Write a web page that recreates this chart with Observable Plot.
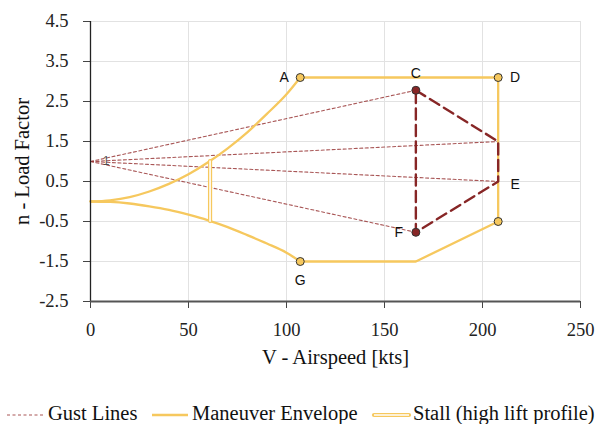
<!DOCTYPE html>
<html>
<head>
<meta charset="utf-8">
<script src="https://cdn.jsdelivr.net/npm/d3@7"></script>
<script src="https://cdn.jsdelivr.net/npm/@observablehq/plot@0.6"></script>
<style>
  body { margin: 0; background: #fff; }
  #wrap { position: relative; width: 607px; height: 424px; background: #fff; }
</style>
</head>
<body>
<div id="wrap"></div>
<script>
// ---- data ----
const xTicks = [0, 50, 100, 150, 200, 250];
const yTicks = [-2.5, -1.5, -0.5, 0.5, 1.5, 2.5, 3.5, 4.5];

// stall curves (airspeed in kts, load factor)
const stallCurveV = [0, 10, 20, 30, 40, 50, 60, 70, 80, 90, 100, 107];
const posStallN   = [0, 0.03, 0.11, 0.25, 0.44, 0.68, 0.98, 1.33, 1.73, 2.19, 2.68, 3.1];
const negStallN   = [0, -0.01, -0.05, -0.12, -0.21, -0.33, -0.47, -0.64, -0.84, -1.05, -1.28, -1.5];

// maneuver envelope corners after point A: A -> D -> lower D -> (Vc,-1.5) -> G
const cornerV = [107, 208, 208, 166, 107];
const cornerN = [3.1, 3.1, -0.5, -1.5, -1.5];

// labelled points
const pointNames = ["A", "C", "D", "E", "F", "G", "D2"];
const pointV = [107, 166, 208, 208, 166, 107, 208];
const pointN = [3.1, 2.78, 3.1, 0.5, -0.77, -1.5, -0.5];

// gust lines from (0, 1) to the gust-envelope corners
const gustOriginV = 0, gustOriginN = 1;
const gustEndV = [166, 208, 208, 166];
const gustEndN = [2.78, 1.5, 0.5, -0.77];

// stall (high lift profile) vertical
const stallLineV = [61, 61];
const stallLineN = [-0.49, 1.01];

const legendLabels = ["Gust Lines", "Maneuver Envelope", "Stall (high lift profile)"];

// ---- build tables ----
const yellow = "#f6c85e";
const darkRed = "#872626";
const gustColor = "#9a3a3a";

const posStall = stallCurveV.map((v, i) => ({v, n: posStallN[i]}));
const negStall = stallCurveV.map((v, i) => ({v, n: negStallN[i]}));
const corners = cornerV.map((v, i) => ({v, n: cornerN[i]}));

const gust = [];
gustEndV.forEach((v, i) => {
  gust.push({id: i, v: gustOriginV, n: gustOriginN});
  gust.push({id: i, v, n: gustEndN[i]});
});

const gustPoly = [0, 1, 2, 3, 0].map(i => ({v: gustEndV[i], n: gustEndN[i]}));
const stallLine = stallLineV.map((v, i) => ({v, n: stallLineN[i]}));

const pts = pointNames.map((name, i) => ({name, v: pointV[i], n: pointN[i]}));
const yellowPts = pts.filter(d => ["A", "D", "G", "D2"].includes(d.name));
const redPts = pts.filter(d => ["C", "F"].includes(d.name));
const labelOffsets = {A: [-16, 0], C: [0, -17], D: [17, 0], E: [17, 3], F: [-17, 0], G: [0, 19]};

const serif = "'Liberation Serif', 'Times New Roman', serif";
const sans = "'Liberation Sans', Arial, sans-serif";

const labelMarks = Object.entries(labelOffsets).map(([name, [dx, dy]]) =>
  Plot.text(pts.filter(d => d.name === name), {x: "v", y: "n", text: "name", dx, dy, fontFamily: sans, fontSize: 14, fill: "#111"})
);

const chart = Plot.plot({
  width: 607,
  height: 395,
  marginLeft: 90,
  marginRight: 27,
  marginTop: 21,
  marginBottom: 94,
  x: {domain: [0, 250]},
  y: {domain: [-2.5, 4.5]},
  style: {fontFamily: serif, fontSize: "18.5px", color: "#222", background: "#fff", overflow: "visible"},
  marks: [
    Plot.gridX(xTicks, {stroke: "#e2e2e2", strokeOpacity: 1, strokeWidth: 1}),
    Plot.gridY(yTicks, {stroke: "#e2e2e2", strokeOpacity: 1, strokeWidth: 1}),
    // gust lines
    Plot.line(gust, {x: "v", y: "n", z: "id", stroke: gustColor, strokeWidth: 1.1, strokeOpacity: 0.85, strokeDasharray: "3,2.5"}),
    Plot.text(["1"], {x: 8, y: 1, text: d => d, fill: "#333", fontSize: 12, fontFamily: sans, fillOpacity: 0.85}),
    // maneuver envelope
    Plot.line(posStall, {x: "v", y: "n", stroke: yellow, strokeWidth: 2.3, curve: "monotone-x"}),
    Plot.line(negStall, {x: "v", y: "n", stroke: yellow, strokeWidth: 2.3, curve: "monotone-x"}),
    Plot.line(corners, {x: "v", y: "n", stroke: yellow, strokeWidth: 2.3, curve: "linear"}),
    // stall high lift profile (double line)
    Plot.line(stallLine, {x: "v", y: "n", stroke: yellow, strokeWidth: 4.2}),
    Plot.line(stallLine, {x: "v", y: "n", stroke: "#fff", strokeWidth: 1.6}),
    // gust envelope dashed
    Plot.line(gustPoly, {x: "v", y: "n", stroke: darkRed, strokeWidth: 2.4, strokeDasharray: "11,5.5"}),
    // points
    Plot.dot(yellowPts, {x: "v", y: "n", r: 4, fill: yellow, stroke: "#333", strokeWidth: 1}),
    Plot.dot(redPts, {x: "v", y: "n", r: 4, fill: darkRed, stroke: "#333", strokeWidth: 1}),
    ...labelMarks,
    // axes
    Plot.axisX(xTicks, {tickSize: 7, tickPadding: 14, label: null, stroke: "#444", fill: "#222", tickFormat: d => String(d)}),
    Plot.axisY(yTicks, {tickSize: 7, tickPadding: 15, label: null, stroke: "#444", fill: "#222", tickFormat: d => d.toFixed(1)}),
    Plot.ruleX([0], {stroke: "#222", strokeWidth: 1.3}),
    Plot.ruleY([-2.5], {stroke: "#555", strokeWidth: 2}),
    // axis titles
    Plot.text(["n - Load Factor"], {frameAnchor: "left", dx: -68, rotate: -90, text: d => d, fontSize: 20.5, fill: "#111", textAnchor: "middle", lineAnchor: "middle"}),
    Plot.text(["V - Airspeed [kts]"], {frameAnchor: "bottom", dy: 56, text: d => d, fontSize: 20.5, fill: "#111", textAnchor: "middle", lineAnchor: "middle"})
  ]
});
chart.style.position = "absolute";
chart.style.left = "0px";
chart.style.top = "0px";

const wrap = document.getElementById("wrap");
wrap.appendChild(chart);

// ---- legend (below the plot) ----
const ns = "http://www.w3.org/2000/svg";
const leg = document.createElementNS(ns, "svg");
leg.setAttribute("width", 607);
leg.setAttribute("height", 29);
leg.style.position = "absolute";
leg.style.left = "0px";
leg.style.top = "395px";
function el(tag, attrs, parent) {
  const e = document.createElementNS(ns, tag);
  for (const k in attrs) e.setAttribute(k, attrs[k]);
  parent.appendChild(e);
  return e;
}
const ly = 20;
// gust swatch
el("line", {x1: 7, x2: 43, y1: ly, y2: ly, stroke: gustColor, "stroke-width": 1.1, "stroke-opacity": 0.85, "stroke-dasharray": "3,2.5"}, leg);
// maneuver swatch
el("line", {x1: 152, x2: 188, y1: ly, y2: ly, stroke: yellow, "stroke-width": 2.3}, leg);
// stall swatch
el("line", {x1: 374, x2: 409, y1: ly, y2: ly, stroke: yellow, "stroke-width": 4.2, "stroke-linecap": "round"}, leg);
el("line", {x1: 374, x2: 409, y1: ly, y2: ly, stroke: "#fff", "stroke-width": 1.6}, leg);
const textX = [48, 192, 413];
legendLabels.forEach((t, i) => {
  const tx = el("text", {x: textX[i], y: 25, "font-family": serif, "font-size": "20.5px", fill: "#111"}, leg);
  tx.textContent = t;
});
wrap.appendChild(leg);
</script>
</body>
</html>
